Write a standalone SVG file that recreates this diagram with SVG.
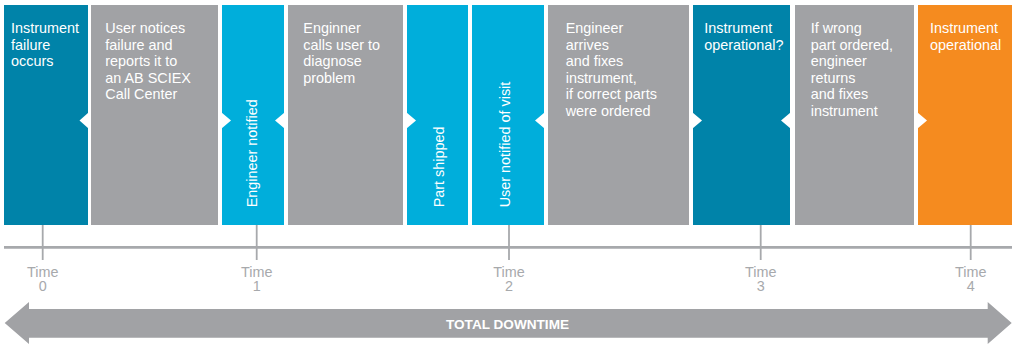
<svg xmlns="http://www.w3.org/2000/svg" width="1015" height="344" viewBox="0 0 1015 344">
  <style>
    .dark { fill: #0083A9; }
    .cyan { fill: #00AEDB; }
    .gray { fill: #A1A2A5; }
    .orange { fill: #F58B1F; }
    .notch { fill: #FFFFFF; }
    .t { font-family: "Liberation Sans", Arial, sans-serif; font-size: 14.4px; fill: #FFFFFF; }
    .time { font-family: "Liberation Sans", Arial, sans-serif; font-size: 14.4px; fill: #A7A9AC; text-anchor: middle; }
    .tick { stroke: #A7A9AC; stroke-width: 1.8; fill: none; }
    .axis { stroke: #A7A9AC; stroke-width: 2.7; fill: none; }
    .big { font-family: "Liberation Sans", Arial, sans-serif; font-size: 13.6px; font-weight: bold; fill: #FFFFFF; text-anchor: middle; }
  </style>
  <rect width="1015" height="344" fill="#FFFFFF"/>

  <g id="connectors">
    <line class="axis" x1="4" y1="247.3" x2="1012" y2="247.3"/>
    <line class="tick" x1="42.7" y1="225" x2="42.7" y2="260"/>
    <line class="tick" x1="256.7" y1="225" x2="256.7" y2="260"/>
    <line class="tick" x1="509" y1="225" x2="509" y2="260"/>
    <line class="tick" x1="760.7" y1="225" x2="760.7" y2="260"/>
    <line class="tick" x1="970.7" y1="225" x2="970.7" y2="260"/>
  </g>

  <g id="node-instrument-failure">
    <rect class="dark" x="4" y="5" width="84" height="220"/>
    <text class="t" x="11" y="33.3">Instrument</text>
    <text class="t" x="11" y="49.8">failure</text>
    <text class="t" x="11" y="66.3">occurs</text>
  </g>

  <g id="node-user-notices">
    <rect class="gray" x="91" y="5" width="127" height="220"/>
    <text class="t" x="105.3" y="33.3">User notices</text>
    <text class="t" x="105.3" y="49.8">failure and</text>
    <text class="t" x="105.3" y="66.3">reports it to</text>
    <text class="t" x="105.3" y="82.8">an AB SCIEX</text>
    <text class="t" x="105.3" y="99.3">Call Center</text>
  </g>

  <g id="node-engineer-notified">
    <rect class="cyan" x="222" y="5" width="62" height="220"/>
    <text class="t" transform="translate(256.7,207.3) rotate(-90)">Engineer notified</text>
  </g>

  <g id="node-engineer-calls">
    <rect class="gray" x="288" y="5" width="115" height="220"/>
    <text class="t" x="303.3" y="33.3">Enginner</text>
    <text class="t" x="303.3" y="49.8">calls user to</text>
    <text class="t" x="303.3" y="66.3">diagnose</text>
    <text class="t" x="303.3" y="82.8">problem</text>
  </g>

  <g id="node-part-shipped">
    <rect class="cyan" x="407" y="5" width="61" height="220"/>
    <text class="t" transform="translate(443.5,207.3) rotate(-90)">Part shipped</text>
  </g>

  <g id="node-user-notified">
    <rect class="cyan" x="472" y="5" width="72" height="220"/>
    <text class="t" transform="translate(510,207.3) rotate(-90)">User notified of visit</text>
  </g>

  <g id="node-engineer-arrives">
    <rect class="gray" x="548" y="5" width="141" height="220"/>
    <text class="t" x="565.7" y="33.3">Engineer</text>
    <text class="t" x="565.7" y="49.8">arrives</text>
    <text class="t" x="565.7" y="66.3">and fixes</text>
    <text class="t" x="565.7" y="82.8">instrument,</text>
    <text class="t" x="565.7" y="99.3">if correct parts</text>
    <text class="t" x="565.7" y="115.8">were ordered</text>
  </g>

  <g id="node-instrument-operational-q">
    <rect class="dark" x="693" y="5" width="97" height="220"/>
    <text class="t" x="704.3" y="33.3">Instrument</text>
    <text class="t" x="704.3" y="49.8">operational?</text>
  </g>

  <g id="node-wrong-part">
    <rect class="gray" x="795" y="5" width="119" height="220"/>
    <text class="t" x="810.7" y="33.3">If wrong</text>
    <text class="t" x="810.7" y="49.8">part ordered,</text>
    <text class="t" x="810.7" y="66.3">engineer</text>
    <text class="t" x="810.7" y="82.8">returns</text>
    <text class="t" x="810.7" y="99.3">and fixes</text>
    <text class="t" x="810.7" y="115.8">instrument</text>
  </g>

  <g id="node-instrument-operational">
    <rect class="orange" x="918" y="5" width="94" height="220"/>
    <text class="t" x="930" y="33.3">Instrument</text>
    <text class="t" x="930" y="49.8">operational</text>
  </g>

  <g id="notches">
    <polygon class="notch" points="88.5,112.5 88.5,128.5 79.5,120.5"/>
    <polygon class="notch" points="221.5,112.5 221.5,128.5 231,120.5"/>
    <polygon class="notch" points="284.5,112.5 284.5,128.5 275,120.5"/>
    <polygon class="notch" points="406.5,112.5 406.5,128.5 416,120.5"/>
    <polygon class="notch" points="544.5,112.5 544.5,128.5 535,120.5"/>
    <polygon class="notch" points="692.5,112.5 692.5,128.5 702,120.5"/>
    <polygon class="notch" points="790.5,112.5 790.5,128.5 781,120.5"/>
    <polygon class="notch" points="917.5,112.5 917.5,128.5 927,120.5"/>
  </g>

  <g id="time-labels">
    <text class="time" y="276.7"><tspan x="42.7">Time</tspan><tspan x="42.7" dy="13.8">0</tspan></text>
    <text class="time" y="276.7"><tspan x="256.7">Time</tspan><tspan x="256.7" dy="13.8">1</tspan></text>
    <text class="time" y="276.7"><tspan x="509">Time</tspan><tspan x="509" dy="13.8">2</tspan></text>
    <text class="time" y="276.7"><tspan x="760.7">Time</tspan><tspan x="760.7" dy="13.8">3</tspan></text>
    <text class="time" y="276.7"><tspan x="970.7">Time</tspan><tspan x="970.7" dy="13.8">4</tspan></text>
  </g>

  <g id="total-downtime">
    <polygon fill="#A1A2A5" points="4.7,323 29,302 29,309 987.7,309 987.7,302 1011.7,323 987.7,344 987.7,337.7 29,337.7 29,344"/>
    <text class="big" x="507.5" y="328.8">TOTAL DOWNTIME</text>
  </g>
</svg>
